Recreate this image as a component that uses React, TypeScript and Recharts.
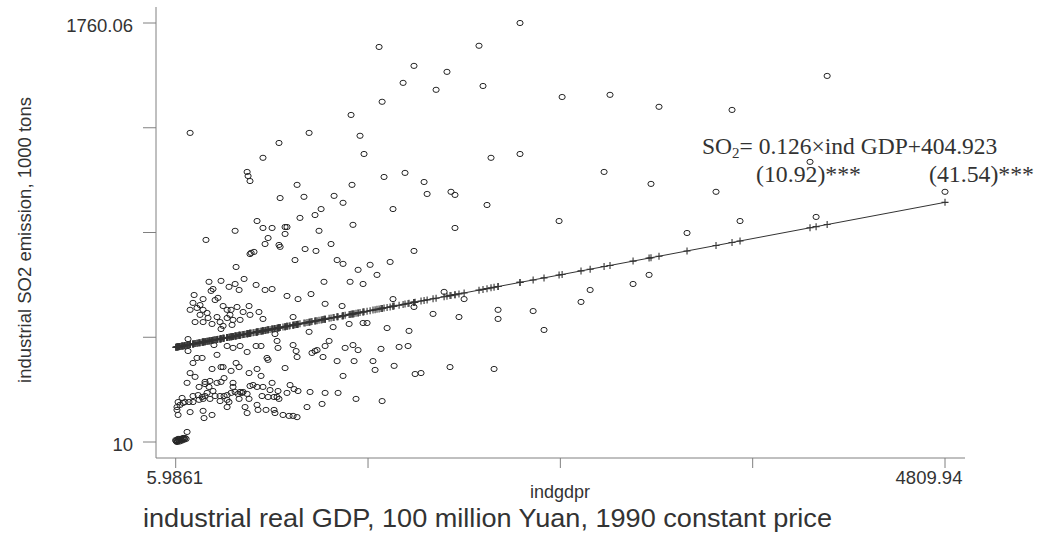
import React from 'react';
import { ScatterChart, Scatter, XAxis, YAxis } from 'recharts';

// industrial real GDP (100 million Yuan, 1990 constant price)
const gdp = [
  2156, 1900, 1700, 1925, 2419, 2718, 3024, 3480, 1975, 2156, 2681, 2974, 3380, 1725, 1750, 1950, 2400, 1750, 3530, 4074,
  3967, 4809.94, 4005, 1276, 1494, 1426, 1632, 1295, 96, 1101, 839, 1157, 651, 1182, 551, 452, 458, 470, 764, 1107,
  1307, 1438, 1557, 1576, 658, 807, 995, 1051, 914, 876, 1363, 514, 782, 551, 608, 689, 701, 689, 377, 195,
  901, 1113, 583, 564, 651, 658, 814, 882, 976, 1494, 470, 477, 495, 383, 751, 1014, 1051, 1145, 1220, 1345,
  3199, 1682, 1807, 1775, 2019, 2019, 2238, 2306, 2537, 2594, 2862, 2962, 1719, 1994, 1263, 214, 289, 339, 377, 402,
  433, 508, 564, 608, 932, 1095, 1176, 121, 177, 227, 239, 701, 770, 851, 939, 1045, 1363, 1494, 1613, 96,
  114, 139, 158, 177, 202, 158, 127, 177, 208, 233, 264, 283, 252, 270, 302, 327, 352, 345, 327, 364,
  358, 389, 408, 427, 470, 464, 526, 551, 289, 302, 739, 839, 989, 1089, 1176, 1201, 1326, 1463, 626, 83,
  83, 245, 327, 364, 408, 452, 508, 539, 639, 645, 739, 758, 764, 689, 857, 876, 889, 926, 939, 964,
  1064, 1113, 1145, 1014, 1120, 1238, 1251, 1288, 1401, 1457, 1370, 1501, 1538, 1051, 576, 583, 514, 352, 464, 539,
  383, 402, 264, 233, 289, 302, 139, 171, 114, 96, 127, 77, 189, 220, 264, 289, 308, 152, 189, 214,
  239, 364, 364, 377, 408, 427, 470, 489, 514, 551, 608, 595, 645, 639, 720, 745, 770, 845, 939, 1020,
  701, 1132, 1295, 826, 920, 114, 146, 171, 189, 202, 252, 283, 308, 327, 352, 395, 420, 452, 464, 402,
  327, 283, 220, 177, 152, 114, 89, 21, 46, 52, 33, 64, 14, 14, 21, 96, 177, 183, 233, 327,
  339, 439, 452, 514, 520, 545, 583, 620, 651, 570, 620, 626, 676, 714, 739, 764, 14, 33, 52, 77,
  8, 21, 27, 40, 46, 58, 64, 71, 21, 5.9861, 14, 30, 45, 60,
];

// industrial SO2 emission (1000 tons)
const so2 = [
  1760.06, 1665, 1556, 1497, 1451, 1460, 1410, 1397, 1197, 1213, 1138, 1088, 1055, 1055, 1042, 1000, 933, 904, 933, 1539,
  1180, 1055, 950, 1660, 1581, 1510, 1481, 1431, 1301, 1376, 1301, 1289, 1259, 1213, 1197, 1138, 1121, 1100, 1084, 1084,
  1117, 1134, 1096, 1046, 1029, 1034, 1038, 1009, 983, 958, 983, 933, 946, 904, 904, 908, 908, 879, 892, 854,
  892, 917, 862, 837, 833, 825, 816, 808, 837, 808, 795, 800, 804, 741, 770, 770, 754, 729, 750, 762,
  883, 637, 607, 532, 562, 524, 557, 478, 595, 645, 670, 708, 323, 315, 708, 679, 683, 658, 670, 645,
  691, 666, 645, 649, 679, 679, 670, 624, 607, 641, 649, 620, 607, 628, 587, 578, 607, 574, 545, 562,
  591, 570, 582, 562, 549, 541, 511, 511, 528, 503, 532, 511, 603, 612, 578, 562, 562, 541, 528, 520,
  499, 574, 520, 553, 541, 578, 553, 524, 482, 495, 532, 470, 490, 503, 507, 507, 486, 474, 461, 440,
  390, 415, 411, 403, 411, 386, 411, 411, 432, 403, 415, 390, 365, 319, 382, 390, 394, 365, 411, 432,
  403, 415, 394, 348, 348, 348, 311, 399, 407, 411, 328, 294, 298, 286, 361, 353, 315, 307, 298, 286,
  340, 323, 374, 315, 323, 323, 361, 361, 340, 298, 282, 257, 261, 265, 257, 261, 277, 240, 252, 240,
  223, 257, 240, 219, 219, 219, 244, 248, 240, 240, 257, 227, 223, 198, 248, 231, 223, 219, 215, 215,
  215, 190, 181, 156, 169, 202, 206, 198, 202, 215, 202, 202, 202, 206, 215, 211, 215, 211, 190, 190,
  186, 181, 190, 190, 186, 177, 177, 177, 194, 173, 165, 177, 156, 144, 123, 135, 140, 110, 123, 156,
  177, 156, 131, 165, 144, 202, 198, 198, 190, 144, 144, 131, 123, 119, 119, 114, 18, 23, 27, 52,
  14, 14, 18, 18, 23, 23, 27, 23, 23, 18, 10, 12, 16, 20,
];

// regression coefficients printed on the chart
const slope = 0.126;
const intercept = 404.923;

const xTicks = [5.9861, 1206.97, 2407.96, 3608.95, 4809.94];
const xTickLabels = ['5.9861', '', '', '', '4809.94'];
const yTicks = [10, 447.515, 885.03, 1322.545, 1760.06];
const yTickLabels = ['10', '', '', '', '1760.06'];

const yTitle = 'industrial SO2 emission, 1000 tons';
const xVarName = 'indgdpr';
const xTitle = 'industrial real GDP, 100 million Yuan, 1990 constant price';
const eqMain = '= 0.126×ind GDP+404.923';
const tStat1 = '(10.92)***';
const tStat2 = '(41.54)***';

const points = gdp.map((x, i) => ({ x, y: so2[i] }));
const fitted = [...gdp].sort((a, b) => a - b).map((x) => ({ x, y: intercept + slope * x }));

const SANS = '"Liberation Sans", Arial, Helvetica, sans-serif';
const SERIF = '"Liberation Serif", "Times New Roman", serif';
const AXIS = '#808080';
const TXT = '#333333';

const Circle = (p: any) => (
  <ellipse cx={p.cx} cy={p.cy} rx={3.1} ry={2.6} fill="none" stroke="#262626" strokeWidth={1} />
);

const Plus = (p: any) => (
  <path
    d={`M${p.cx - 3.5},${p.cy}h7M${p.cx},${p.cy - 3.5}v7`}
    stroke="#333"
    strokeWidth={1.1}
    fill="none"
  />
);

const XTick = (p: any) => {
  const idx = xTicks.indexOf(p.payload.value);
  const label = xTickLabels[idx] || '';
  if (!label) return <g />;
  const shift = idx === xTicks.length - 1 ? -16 : -1;
  return (
    <text x={p.x + shift} y={p.y} dy="0.71em" textAnchor="middle" fontFamily={SANS} fontSize={18.5} fill={TXT}>
      {label}
    </text>
  );
};

const YTick = (p: any) => {
  const idx = yTicks.indexOf(p.payload.value);
  const label = yTickLabels[idx] || '';
  if (!label) return <g />;
  return (
    <text x={p.x} y={p.y + 2} dy="0.355em" textAnchor="end" fontFamily={SANS} fontSize={18.5} fill={TXT}>
      {label}
    </text>
  );
};

export default function App() {
  return (
    <div style={{ position: 'absolute', left: 0, top: 0, width: 1037, height: 538, background: '#fff' }}>
      <ScatterChart width={1037} height={538} margin={{ top: 7, right: 72, bottom: 0, left: 0 }}>
        <XAxis
          type="number"
          dataKey="x"
          domain={[-117, 4934.8]}
          ticks={xTicks}
          interval={0}
          allowDataOverflow
          height={80}
          tickSize={10}
          tickMargin={3}
          stroke={AXIS}
          tickLine={{ stroke: AXIS }}
          tick={<XTick />}
        />
        <YAxis
          type="number"
          dataKey="y"
          domain={[-56.8, 1826.9]}
          ticks={yTicks}
          interval={0}
          allowDataOverflow
          width={156}
          tickSize={13}
          tickMargin={10}
          stroke={AXIS}
          tickLine={{ stroke: AXIS }}
          tick={<YTick />}
        />
        <Scatter data={points} shape={Circle} isAnimationActive={false} />
        <Scatter
          data={fitted}
          shape={Plus}
          line={{ stroke: '#333', strokeWidth: 1 }}
          lineType="joint"
          isAnimationActive={false}
        />
      </ScatterChart>
      <svg
        width={1037}
        height={538}
        style={{ position: 'absolute', left: 0, top: 0, pointerEvents: 'none' }}
      >
        <text
          transform="translate(31,240) rotate(-90)"
          textAnchor="middle"
          fontFamily={SANS}
          fontSize={18.5}
          fill={TXT}
        >
          {yTitle}
        </text>
        <text x={560} y={498} textAnchor="middle" fontFamily={SANS} fontSize={18} fill={TXT}>
          {xVarName}
        </text>
        <text
          x={143}
          y={527}
          fontFamily={SANS}
          fontSize={26}
          fill={TXT}
          textLength={689}
          lengthAdjust="spacingAndGlyphs"
        >
          {xTitle}
        </text>
        <text x={702} y={154} fontFamily={SERIF} fontSize={23.5} fill={TXT}>
          SO
          <tspan fontSize={15} dy={4}>2</tspan>
          <tspan dy={-4}>{eqMain}</tspan>
        </text>
        <text x={756} y={182} fontFamily={SERIF} fontSize={23} fill={TXT} textLength={105} lengthAdjust="spacingAndGlyphs">
          {tStat1}
        </text>
        <text x={929} y={182} fontFamily={SERIF} fontSize={23} fill={TXT} textLength={105} lengthAdjust="spacingAndGlyphs">
          {tStat2}
        </text>
      </svg>
    </div>
  );
}
